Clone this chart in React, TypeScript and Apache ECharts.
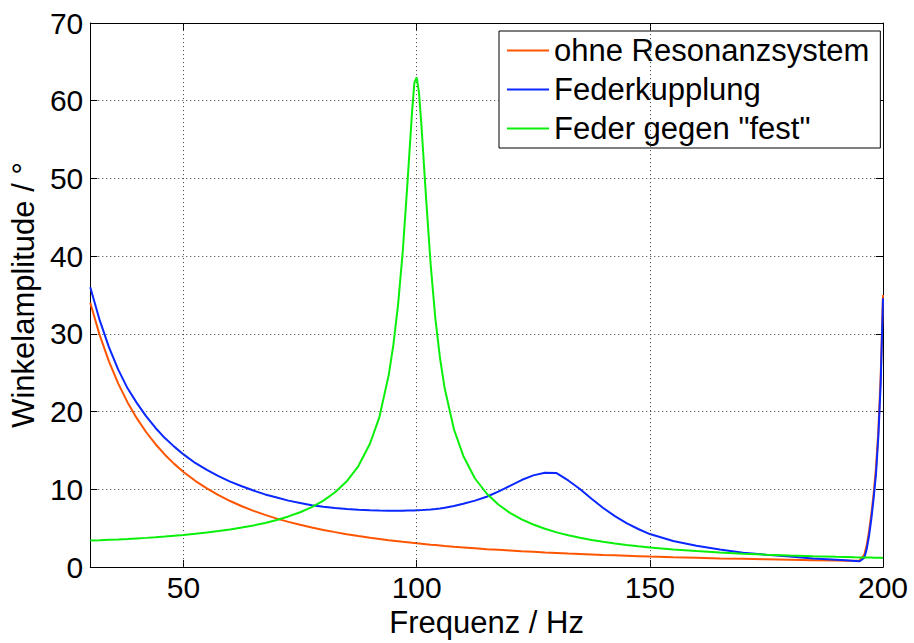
import React, { useEffect, useRef } from 'react';
import * as echarts from 'echarts';

// Frequency samples (Hz)
const freq = [30, 32, 34, 36, 38, 40, 42, 44, 46, 48, 50, 52.5, 55, 57.5, 60, 62.5, 65, 67.5, 70, 72.5,
  75, 77.5, 80, 82.5, 85, 87.5, 90, 92, 94, 95, 96, 97, 98, 99, 99.5, 100, 100.5, 101, 102, 103,
  104, 105, 106, 108, 110, 112.5, 115, 117.5, 120, 122.5, 125, 127.5, 130, 132.5, 135, 137.5, 140, 142.5, 145, 147.5,
  150, 155, 160, 165, 170, 175, 180, 185, 190, 192, 194, 195, 196, 196.5, 197, 197.5, 198, 198.5, 199, 199.5, 200];

// "ohne Resonanzsystem"
const ohneResonanz = [34.0, 29.88, 26.47, 23.61, 21.19, 19.13, 17.35, 15.81, 14.46, 13.28,
  12.24, 11.10, 10.12, 9.26, 8.50, 7.83, 7.24, 6.72, 6.24, 5.82,
  5.44, 5.09, 4.78, 4.50, 4.24, 4.00, 3.78, 3.62, 3.46, 3.39,
  3.32, 3.25, 3.19, 3.12, 3.09, 3.06, 3.03, 3.00, 2.94, 2.88,
  2.83, 2.78, 2.72, 2.62, 2.53, 2.42, 2.31, 2.22, 2.13, 2.04,
  1.96, 1.88, 1.81, 1.74, 1.68, 1.62, 1.56, 1.51, 1.46, 1.41,
  1.36, 1.27, 1.20, 1.12, 1.06, 1.00, 0.94, 0.89, 0.85, 0.83,
  0.82, 0.85, 1.6, 2.8, 4.6, 6.8, 9.5, 12.8, 17.5, 24.5,
  35.0];

// "Federkupplung"
const federkupplung = [36.0, 31.8, 28.3, 25.4, 23.0, 21.1, 19.4, 17.9, 16.6, 15.5,
  14.5, 13.4, 12.5, 11.7, 11.0, 10.4, 9.85, 9.35, 8.95, 8.55,
  8.25, 7.95, 7.75, 7.6, 7.48, 7.38, 7.31, 7.27, 7.25, 7.25,
  7.25, 7.26, 7.27, 7.28, 7.29, 7.3, 7.31, 7.33, 7.37, 7.42,
  7.48, 7.55, 7.63, 7.85, 8.15, 8.55, 9.05, 9.7, 10.45, 11.2,
  11.8, 12.15, 12.1, 11.15, 10.05, 8.8, 7.6, 6.55, 5.65, 4.9,
  4.25, 3.35, 2.75, 2.25, 1.85, 1.58, 1.35, 1.12, 0.95, 0.88,
  0.8, 0.75, 1.2, 2.3, 4.0, 6.2, 8.9, 12.0, 16.8, 23.5,
  34.6];

// 'Feder gegen "fest"'
const federFest = [3.41, 3.45, 3.51, 3.56, 3.62, 3.69, 3.76, 3.84, 3.93, 4.03,
  4.13, 4.28, 4.44, 4.63, 4.84, 5.09, 5.36, 5.68, 6.06, 6.52,
  7.06, 7.72, 8.56, 9.63, 11.04, 13.0, 15.9, 19.3, 24.7, 28.6,
  33.7, 40.5, 49.2, 58.5, 62.3, 63.0, 61.0, 57.0, 47.6, 38.9,
  32.0, 26.9, 23.0, 17.7, 14.3, 11.4, 9.47, 8.05, 6.98, 6.15,
  5.48, 4.93, 4.47, 4.10, 3.77, 3.50, 3.26, 3.04, 2.85, 2.68,
  2.53, 2.27, 2.06, 1.88, 1.73, 1.60, 1.49, 1.40, 1.32, 1.29,
  1.26, 1.25, 1.24, 1.23, 1.22, 1.22, 1.21, 1.20, 1.20, 1.19,
  1.18];

const seriesNames = ['ohne Resonanzsystem', 'Federkupplung', 'Feder gegen "fest"'];
const xTicks = [50, 100, 150, 200];
const xGridValues = [50, 100, 150];

const FONT = "'Liberation Sans', Arial, Helvetica, sans-serif";

export default function App() {
  const ref = useRef<HTMLDivElement>(null);

  useEffect(() => {
    document.body.style.margin = '0';
    const chart = echarts.init(ref.current!, null, { renderer: 'svg' });
    const pairs = (ys: number[]) => freq.map((f, i) => [f, ys[i]]);
    const gridLine = { color: '#3a3a3a', type: [1, 3] as any, width: 1 };
    const axisLineStyle = { color: '#000', width: 1 };

    chart.setOption({
      animation: false,
      backgroundColor: '#fff',
      grid: { left: 89, right: 31, top: 23, bottom: 71, containLabel: false },
      xAxis: [
        {
          type: 'value', min: 30, max: 200, position: 'bottom',
          name: 'Frequenz / Hz', nameLocation: 'middle', nameGap: 34,
          nameTextStyle: { fontSize: 31, color: '#000', fontFamily: FONT },
          axisLine: { show: true, onZero: false, lineStyle: axisLineStyle },
          axisTick: { show: true, inside: true, length: 7, customValues: xTicks, lineStyle: { color: '#000' } },
          axisLabel: { customValues: xTicks, fontSize: 30, color: '#000', fontFamily: FONT, margin: 5 },
          splitLine: { show: false },
        },
        {
          type: 'value', min: 30, max: 200, position: 'top',
          axisLine: { show: true, onZero: false, lineStyle: axisLineStyle },
          axisTick: { show: true, inside: true, length: 7, customValues: xTicks, lineStyle: { color: '#000' } },
          axisLabel: { show: false },
          splitLine: { show: false },
        },
      ],
      yAxis: [
        {
          type: 'value', min: 0, max: 70, interval: 10, position: 'left',
          name: 'Winkelamplitude / °', nameLocation: 'middle', nameRotate: 90, nameGap: 50,
          nameTextStyle: { fontSize: 31, color: '#000', fontFamily: FONT },
          axisLine: { show: true, onZero: false, lineStyle: axisLineStyle },
          axisTick: { show: true, inside: true, length: 7, lineStyle: { color: '#000' } },
          axisLabel: { fontSize: 30, color: '#000', fontFamily: FONT, margin: 7 },
          splitLine: { show: true, lineStyle: gridLine },
        },
        {
          type: 'value', min: 0, max: 70, interval: 10, position: 'right',
          axisLine: { show: true, onZero: false, lineStyle: axisLineStyle },
          axisTick: { show: true, inside: true, length: 7, lineStyle: { color: '#000' } },
          axisLabel: { show: false },
          splitLine: { show: false },
        },
      ],
      legend: {
        data: seriesNames,
        orient: 'vertical',
        left: 499, top: 31,
        padding: [4, 11, 4, 8],
        itemGap: 8,
        icon: 'rect',
        itemWidth: 42,
        itemHeight: 2,
        backgroundColor: '#fff',
        borderColor: '#000',
        borderWidth: 1,
        borderRadius: 0,
        textStyle: { fontSize: 31, lineHeight: 31, color: '#000', fontFamily: FONT },
      },
      series: [
        {
          type: 'line', name: '_grid', data: [], z: 1, silent: true,
          markLine: {
            silent: true, symbol: ['none', 'none'], label: { show: false },
            lineStyle: gridLine,
            data: xGridValues.map((v) => ({ xAxis: v })),
          },
        },
        {
          type: 'line', name: seriesNames[0], data: pairs(ohneResonanz), symbol: 'none', showSymbol: false,
          lineStyle: { color: '#FF5500', width: 2 }, itemStyle: { color: '#FF5500' }, z: 3,
        },
        {
          type: 'line', name: seriesNames[1], data: pairs(federkupplung), symbol: 'none', showSymbol: false,
          lineStyle: { color: '#0A28FF', width: 2 }, itemStyle: { color: '#0A28FF' }, z: 4,
        },
        {
          type: 'line', name: seriesNames[2], data: pairs(federFest), symbol: 'none', showSymbol: false,
          lineStyle: { color: '#0AF00A', width: 2 }, itemStyle: { color: '#0AF00A' }, z: 5,
        },
      ],
    });
    return () => chart.dispose();
  }, []);

  return <div ref={ref} style={{ position: 'absolute', left: 0, top: 0, width: 914, height: 643 }} />;
}
